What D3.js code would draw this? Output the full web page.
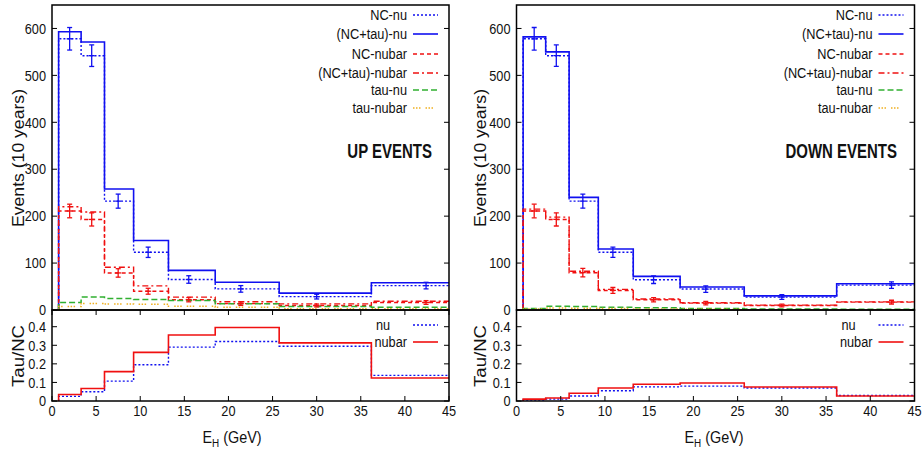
<!DOCTYPE html>
<html>
<head>
<meta charset="utf-8">
<script src="https://cdn.jsdelivr.net/npm/d3@7"></script>
<style>
  body { margin: 0; background: #fff; }
  svg text { font-family: "Liberation Sans", Arial, sans-serif; fill: #111; }
</style>
</head>
<body>
<svg id="chart" width="923" height="450"></svg>
<script>
// bin edges (GeV) and the x positions of the error bars
const edges = [0.75, 3.3, 5.95, 9.25, 13.2, 18.5, 25.75, 36.2, 45];
const errX = [2.0, 4.5, 7.5, 10.9, 15.5, 21.4, 30, 42.4];

// UP events
const upNCnu = [578, 542, 232, 123, 65, 45, 28.5, 52];
const upTotNu = [593, 571, 258, 148, 84.5, 59, 36, 58];
const upNCnubar = [211, 193, 79, 40, 22, 13.5, 9.6, 16];
const upTotNubar = [220, 209, 91, 51.5, 27.5, 17.5, 13, 18.5];
const upTauNu = [16, 27.5, 24.6, 22.5, 20, 13.5, 7.5, 6];
const upTauNubar = [7.5, 14, 13, 12, 8, 6, 2.5, 2.5];
const upRatioNu = [0.025, 0.05, 0.107, 0.195, 0.29, 0.32, 0.295, 0.138];
const upRatioNubar = [0.035, 0.067, 0.158, 0.262, 0.355, 0.396, 0.313, 0.124];

// DOWN events
const downNCnu = [578, 542, 232, 123, 64.5, 44.6, 27.5, 53];
const downTotNu = [582, 550, 240, 130, 71.7, 49, 30, 56];
const downNCnubar = [211, 193, 79.5, 41.7, 21.8, 14.6, 9.6, 16.8];
const downTotNubar = [215, 198, 82.5, 44, 23.5, 15.5, 10.3, 17.3];
const downTauNu = [3, 8, 7.5, 6, 4.6, 3, 2, 1.8];
const downTauNubar = [2, 4, 3.5, 3, 2, 1.5, 0.8, 0.5];
const downRatioNu = [0.005, 0.01, 0.027, 0.055, 0.076, 0.08, 0.07, 0.03];
const downRatioNubar = [0.01, 0.016, 0.042, 0.07, 0.09, 0.097, 0.075, 0.027];

// statistical errors on the NC points
const errNu = [24, 23, 15, 11, 8, 7, 5, 7];
const errNubar = [14.5, 14, 9, 6.3, 4.6, 3.7, 3.1, 4];

const xTicks = [0, 5, 10, 15, 20, 25, 30, 35, 40, 45];
const yTicksTop = [0, 100, 200, 300, 400, 500, 600];
const yTicksBot = [0, 0.1, 0.2, 0.3, 0.4];

const BLUE = '#1010f0', RED = '#f01010', GREEN = '#30b030', GOLD = '#f0b020';

const styles = {
  ncNu:      { color: BLUE,  dash: '2,2',          width: 1.4, label: 'NC-nu' },
  totNu:     { color: BLUE,  dash: null,           width: 1.6, label: '(NC+tau)-nu' },
  ncNubar:   { color: RED,   dash: '4,3',          width: 1.4, label: 'NC-nubar' },
  totNubar:  { color: RED,   dash: '6,3,2,3',      width: 1.4, label: '(NC+tau)-nubar' },
  tauNu:     { color: GREEN, dash: '6,3',          width: 1.5, label: 'tau-nu' },
  tauNubar:  { color: GOLD,  dash: '1.5,1.5,1.5,1.5,1.5,5', width: 1.5, label: 'tau-nubar' }
};

const svg = d3.select('#chart');

// gnuplot's text is a condensed Helvetica, so squeeze the glyphs horizontally
function label(g, x, y, str, o = {}) {
  const sx = o.sx || 0.85;
  const t = g.append('text')
    .attr('transform', `translate(${x},${y}) rotate(${o.rotate || 0}) scale(${sx},1)`)
    .attr('text-anchor', o.anchor || 'start')
    .attr('dy', o.dy || '0.35em')
    .style('font-size', (o.size || 15) + 'px')
    .style('font-weight', o.bold ? 'bold' : null)
    .text(str);
  if (o.len) t.attr('textLength', o.len).attr('lengthAdjust', 'spacingAndGlyphs');
  return t;
}

function stepPoints(vals) {
  const pts = [[edges[0], 0]];
  vals.forEach((v, i) => pts.push([edges[i], v]));
  pts.push([edges[edges.length - 1], vals[vals.length - 1]]);
  return pts;
}

function drawPanel(opt) {
  const x0 = opt.x0, x1 = opt.x1;
  const topY0 = 5, topY1 = 310, botY1 = 401;
  const g = svg.append('g');

  const x = d3.scaleLinear().domain([0, 45]).range([x0, x1]);
  const yTop = d3.scaleLinear().domain([0, 650]).range([topY1, topY0]);
  const yBot = d3.scaleLinear().domain([0, 0.49]).range([botY1, topY1]);

  const clipTop = 'clipTop' + opt.id, clipBot = 'clipBot' + opt.id;
  const defs = g.append('defs');
  defs.append('clipPath').attr('id', clipTop).append('rect')
    .attr('x', x0).attr('y', topY0).attr('width', x1 - x0).attr('height', topY1 - topY0);
  defs.append('clipPath').attr('id', clipBot).append('rect')
    .attr('x', x0).attr('y', topY1).attr('width', x1 - x0).attr('height', botY1 - topY1);

  const lineTop = d3.line().x(d => x(d[0])).y(d => yTop(d[1])).curve(d3.curveStepAfter);
  const lineBot = d3.line().x(d => x(d[0])).y(d => yBot(d[1])).curve(d3.curveStepAfter);

  // --- top histogram ---
  const top = g.append('g').attr('clip-path', `url(#${clipTop})`);
  const series = [
    ['ncNu', opt.ncNu], ['totNu', opt.totNu], ['ncNubar', opt.ncNubar],
    ['totNubar', opt.totNubar], ['tauNu', opt.tauNu], ['tauNubar', opt.tauNubar]
  ];
  series.forEach(([key, vals]) => {
    const s = styles[key];
    top.append('path')
      .attr('d', lineTop(stepPoints(vals)))
      .attr('fill', 'none')
      .attr('stroke', s.color)
      .attr('stroke-width', s.width)
      .attr('stroke-dasharray', s.dash);
  });

  // error bars on NC points
  [[opt.ncNu, errNu, BLUE], [opt.ncNubar, errNubar, RED]].forEach(([vals, errs, color]) => {
    const eb = top.append('g').attr('stroke', color).attr('stroke-width', 1.3);
    vals.forEach((v, i) => {
      const cx = x(errX[i]);
      eb.append('line').attr('x1', cx).attr('x2', cx)
        .attr('y1', yTop(v - errs[i])).attr('y2', yTop(v + errs[i]));
      [v - errs[i], v + errs[i]].forEach(e => {
        eb.append('line').attr('x1', cx - 2.5).attr('x2', cx + 2.5)
          .attr('y1', yTop(e)).attr('y2', yTop(e));
      });
      eb.append('line').attr('x1', cx - 3).attr('x2', cx + 3)
        .attr('y1', yTop(v)).attr('y2', yTop(v));
    });
  });

  // --- bottom ratio ---
  const bot = g.append('g').attr('clip-path', `url(#${clipBot})`);
  bot.append('path').attr('d', lineBot(stepPoints(opt.ratioNu)))
    .attr('fill', 'none').attr('stroke', BLUE).attr('stroke-width', 1.4).attr('stroke-dasharray', '2,2');
  bot.append('path').attr('d', lineBot(stepPoints(opt.ratioNubar)))
    .attr('fill', 'none').attr('stroke', RED).attr('stroke-width', 1.6);

  // --- frames and ticks ---
  const tick = 5;
  const frame = g.append('g').attr('stroke', '#000').attr('fill', 'none');
  frame.append('rect').attr('x', x0).attr('y', topY0).attr('width', x1 - x0).attr('height', topY1 - topY0)
    .attr('stroke-width', 1.5);
  frame.append('rect').attr('x', x0).attr('y', topY1).attr('width', x1 - x0).attr('height', botY1 - topY1)
    .attr('stroke-width', 1.5);

  yTicksTop.forEach(t => {
    const yy = yTop(t);
    frame.append('line').attr('x1', x0).attr('x2', x0 + tick).attr('y1', yy).attr('y2', yy).attr('stroke-width', 1);
    frame.append('line').attr('x1', x1).attr('x2', x1 - tick).attr('y1', yy).attr('y2', yy).attr('stroke-width', 1);
    label(g, x0 - 6, yy, t, { anchor: 'end' });
  });
  yTicksBot.forEach(t => {
    const yy = yBot(t);
    frame.append('line').attr('x1', x0).attr('x2', x0 + tick).attr('y1', yy).attr('y2', yy).attr('stroke-width', 1);
    frame.append('line').attr('x1', x1).attr('x2', x1 - tick).attr('y1', yy).attr('y2', yy).attr('stroke-width', 1);
    label(g, x0 - 6, yy, t, { anchor: 'end' });
  });
  xTicks.forEach(t => {
    const xx = x(t);
    frame.append('line').attr('x1', xx).attr('x2', xx).attr('y1', botY1).attr('y2', botY1 - tick).attr('stroke-width', 1);
    frame.append('line').attr('x1', xx).attr('x2', xx).attr('y1', topY1).attr('y2', topY1 + tick).attr('stroke-width', 1);
    label(g, xx, botY1 + 10, t, { anchor: 'middle' });
  });

  // axis titles
  label(g, opt.ylabX, 158, 'Events (10 years)', { anchor: 'middle', rotate: -90, size: 16, sx: 1, len: 138 });
  label(g, opt.ylabX, 356, 'Tau/NC', { anchor: 'middle', rotate: -90, size: 16, sx: 1, len: 62 });
  const xl = g.append('text')
    .attr('transform', `translate(${opt.xlabX},437) scale(0.9,1)`)
    .attr('dy', '0.35em').attr('text-anchor', 'middle').style('font-size', '16px');
  xl.append('tspan').text('E');
  xl.append('tspan').attr('dy', 4).style('font-size', '11px').text('H');
  xl.append('tspan').attr('dy', -4).text(' (GeV)');

  // legend (top)
  const lgText = x1 - 42, lgS0 = x1 - 36, lgS1 = x1 - 11;
  const rows = [15, 34, 54, 73, 90, 108];
  ['ncNu', 'totNu', 'ncNubar', 'totNubar', 'tauNu', 'tauNubar'].forEach((key, i) => {
    const s = styles[key];
    label(g, lgText, rows[i], s.label, { anchor: 'end' });
    g.append('line').attr('x1', lgS0).attr('x2', lgS1).attr('y1', rows[i]).attr('y2', rows[i])
      .attr('stroke', s.color).attr('stroke-width', s.width).attr('stroke-dasharray', s.dash);
  });

  // title
  label(g, opt.titleX, 151, opt.title, { anchor: 'end', size: 20, bold: true, sx: 0.75 });

  // legend (bottom)
  label(g, x1 - 42, 342, 'nubar', { anchor: 'end' });
  g.append('line').attr('x1', lgS0).attr('x2', lgS1).attr('y1', 342).attr('y2', 342)
    .attr('stroke', RED).attr('stroke-width', 1.6);
  label(g, x1 - 73, 325, 'nu');
  g.append('line').attr('x1', lgS0).attr('x2', lgS1).attr('y1', 325).attr('y2', 325)
    .attr('stroke', BLUE).attr('stroke-width', 1.4).attr('stroke-dasharray', '2,2');
}

drawPanel({
  id: 'up', x0: 52, x1: 449, ylabX: 18, xlabX: 232, title: 'UP EVENTS', titleX: 432,
  ncNu: upNCnu, totNu: upTotNu, ncNubar: upNCnubar, totNubar: upTotNubar,
  tauNu: upTauNu, tauNubar: upTauNubar, ratioNu: upRatioNu, ratioNubar: upRatioNubar
});
drawPanel({
  id: 'down', x0: 516.5, x1: 914.5, ylabX: 480, xlabX: 714, title: 'DOWN EVENTS', titleX: 897,
  ncNu: downNCnu, totNu: downTotNu, ncNubar: downNCnubar, totNubar: downTotNubar,
  tauNu: downTauNu, tauNubar: downTauNubar, ratioNu: downRatioNu, ratioNubar: downRatioNubar
});
</script>
</body>
</html>
